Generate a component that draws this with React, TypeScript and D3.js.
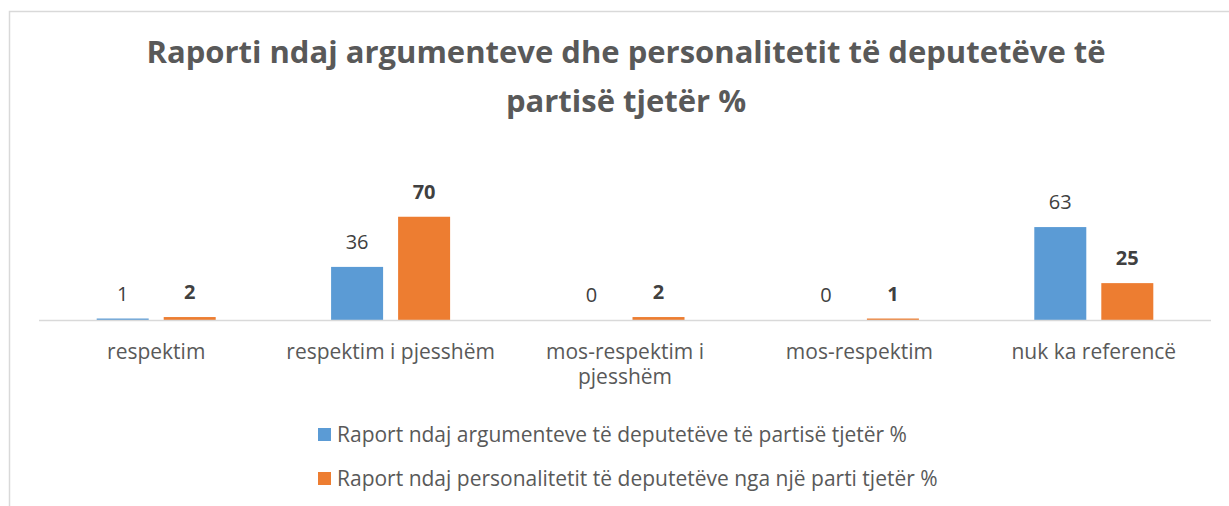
import React from "react";
import * as d3 from "d3";

const title = ["Raporti ndaj argumenteve dhe personalitetit të deputetëve të", "partisë tjetër %"];
const categories = ["respektim", "respektim i pjesshëm", "mos-respektim i pjesshëm", "mos-respektim", "nuk ka referencë"];
const categoryLines = [["respektim"], ["respektim i pjesshëm"], ["mos-respektim i", "pjesshëm"], ["mos-respektim"], ["nuk ka referencë"]];
const seriesNames = [
  "Raport ndaj argumenteve të deputetëve të partisë tjetër %",
  "Raport ndaj personalitetit të deputetëve nga një parti tjetër %",
];
const argumentValues = [1, 36, 0, 0, 63];
const personalityValues = [2, 70, 2, 1, 25];
const seriesColors = ["#5B9BD5", "#ED7D31"];

const W = 1229;
const H = 506;
const FONT = "'Open Sans', Lato, sans-serif";

export default function App() {
  const x = d3.scaleBand<string>().domain(categories).range([39, 1211]).padding(0);
  const xs = d3
    .scaleBand<number>()
    .domain([0, 1])
    .range([0, x.bandwidth()])
    .paddingInner(0.224)
    .paddingOuter(0.861);
  const y = d3.scaleLinear().domain([0, 80]).range([320, 202]);
  const series = [argumentValues, personalityValues];

  return (
    <svg
      width={W}
      height={H}
      style={{ position: "absolute", left: 0, top: 0, background: "#fff", fontVariantLigatures: "none" }}
      fontFamily={FONT}
    >
      <rect x={0} y={0} width={W} height={H} fill="#fff" />
      <rect x={9.5} y={11.5} width={1400} height={700} fill="none" stroke="#D9D9D9" strokeWidth={1.5} />
      {title.map((t, i) => (
        <text key={i} x={626} y={63 + i * 49} textAnchor="middle" fontSize={31} fontWeight={700} fill="#595959">
          {t}
        </text>
      ))}
      {series.map((vals, si) =>
        vals.map((v, ci) => {
          const bx = (x(categories[ci]) ?? 0) + (xs(si) ?? 0);
          return (
            <g key={`${si}-${ci}`}>
              {v > 0 && (
                <rect x={bx} y={y(v)} width={xs.bandwidth()} height={y(0) - y(v)} fill={seriesColors[si]} />
              )}
              <text
                x={bx + xs.bandwidth() / 2}
                y={y(v) - 18}
                textAnchor="middle"
                fontSize={20}
                fontWeight={si === 1 ? 700 : 400}
                fill="#404040"
              >
                {v}
              </text>
            </g>
          );
        })
      )}
      <line x1={39} x2={1211} y1={320.5} y2={320.5} stroke="#D9D9D9" strokeWidth={1.5} />
      {categories.map((c, ci) => (
        <text key={c} x={(x(c) ?? 0) + x.bandwidth() / 2} textAnchor="middle" fontSize={21} fill="#595959">
          {categoryLines[ci].map((ln, li) => (
            <tspan key={li} x={(x(c) ?? 0) + x.bandwidth() / 2} y={359 + li * 25}>
              {ln}
            </tspan>
          ))}
        </text>
      ))}
      {seriesNames.map((n, i) => (
        <g key={n}>
          <rect x={318} y={428 + i * 44} width={13} height={13} fill={seriesColors[i]} />
          <text x={337} y={442 + i * 44} fontSize={21} fill="#595959">
            {n}
          </text>
        </g>
      ))}
    </svg>
  );
}
